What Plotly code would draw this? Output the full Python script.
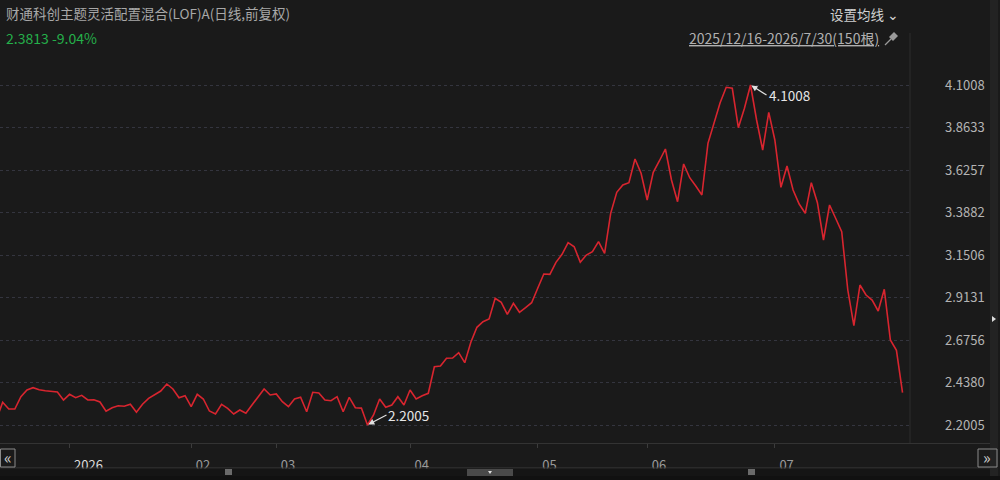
import pandas as pd
import plotly.graph_objects as go

# trading calendar 2025/12/16 - 2026/7/30 (150 bars)
start_date = '2025-12-16'
end_date = '2026-07-30'
holidays = ['2026-01-01', '2026-01-02',
            '2026-02-16', '2026-02-17', '2026-02-18', '2026-02-19', '2026-02-20', '2026-02-23',
            '2026-04-06', '2026-05-01', '2026-05-04', '2026-05-05', '2026-06-19']

# daily close (前复权)
closes = [
    2.2340, 2.3274, 2.2899, 2.2899, 2.3587, 2.3961, 2.4090, 2.3978, 2.3922, 2.3866,
    2.3849, 2.3402, 2.3721, 2.3531, 2.3665, 2.3402, 2.3419, 2.3290, 2.2771, 2.2972,
    2.3084, 2.3050, 2.3162, 2.2715, 2.3162, 2.3497, 2.3698, 2.3905, 2.4297, 2.4017,
    2.3531, 2.3643, 2.3028, 2.3721, 2.3458, 2.2787, 2.2620, 2.3162, 2.2938, 2.2620,
    2.2843, 2.2659, 2.3123, 2.3553, 2.4017, 2.3682, 2.3738, 2.3307, 2.3028, 2.3458,
    2.3553, 2.2748, 2.3833, 2.3794, 2.3402, 2.3363, 2.3587, 2.2748, 2.3553, 2.2972,
    2.2950, 2.2005, 2.2564, 2.3458, 2.2994, 2.3123, 2.3587, 2.3123, 2.3961, 2.3458,
    2.3643, 2.3777, 2.5263, 2.5303, 2.5733, 2.5750, 2.6046, 2.5487, 2.6627, 2.7466,
    2.7779, 2.7929, 2.9086, 2.8863, 2.8192, 2.8807, 2.8304, 2.8561, 2.8840, 2.9645,
    3.0445, 3.0428, 3.1098, 3.1546, 3.2194, 3.1970, 3.1098, 3.1506, 3.1691, 3.2250,
    3.1602, 3.3837, 3.5011, 3.5419, 3.5547, 3.6872, 3.6073, 3.4580, 3.6129, 3.6760,
    3.7431, 3.5698, 3.4485, 3.6593, 3.5827, 3.5363, 3.4860, 3.7750, 3.8867, 4.0019,
    4.0879, 4.0823, 3.8621, 3.9706, 4.1008, 3.9052, 3.7375, 3.9482, 3.7934, 3.5290,
    3.6481, 3.5139, 3.4357, 3.3837, 3.5547, 3.4430, 3.2345, 3.4301, 3.3558, 3.2809,
    2.9550, 2.7555, 2.9830, 2.9271, 2.8991, 2.8377, 2.9589, 2.6756, 2.6179, 2.3813,
]

fund_name = '财通科创主题灵活配置混合(LOF)A(日线,前复权)'

days = pd.bdate_range(start_date, end_date)
days = days[~days.isin(pd.to_datetime(holidays))]
dates = [d.strftime('%Y-%m-%d') for d in days]
n = len(dates)

# month ticks on the first trading day of each month
# (short labels padded with invisible digits so every label starts just right of its tick)
pad = '<span style="color:rgba(0,0,0,0)">00</span>'
tick_vals, tick_text = [], []
seen = set()
for d in days:
    key = (d.year, d.month)
    if key in seen:
        continue
    seen.add(key)
    if d == days[0]:
        continue
    tick_vals.append(d.strftime('%Y-%m-%d'))
    if d.month == 1:
        tick_text.append('<span style="color:#dcdcdc">%d</span>' % d.year)
    else:
        tick_text.append('%02d' % d.month + pad)

hi, lo = max(closes), min(closes)
i_hi, i_lo = closes.index(hi), closes.index(lo)
step = (hi - lo) / 8
y_ticks = [lo + step * k for k in range(9)]
per_px = (hi - lo) / 340
last, prev = closes[-1], closes[-2]
pct = (last / prev - 1) * 100

BG = '#1a1a1a'
CJK = 'Noto Sans CJK SC, Noto Sans, sans-serif'


def px(x):
    return x / 910


def py(y):
    return (443 - y) / 388


fig = go.Figure()
fig.add_trace(go.Scatter(
    x=dates, y=closes, mode='lines',
    line=dict(color='#d8252f', width=1.6),
    hoverinfo='x+y', showlegend=False))

shapes = [
    # separator between plot and price scale
    dict(type='line', xref='paper', yref='paper', x0=px(910), x1=px(910), y0=py(33), y1=py(443),
         line=dict(color='#2c2c2c', width=1)),
    dict(type='line', xref='paper', yref='paper', x0=px(0), x1=px(990), y0=py(443.5), y1=py(443.5),
         line=dict(color='#333333', width=1)),
    # bottom navigator
    dict(type='line', xref='paper', yref='paper', x0=px(0), x1=px(990), y0=py(468), y1=py(468),
         line=dict(color='#3a3a3a', width=1)),
    dict(type='rect', xref='paper', yref='paper', x0=px(0), x1=px(990), y0=py(476), y1=py(468.5),
         fillcolor='#151515', line=dict(width=0)),
    dict(type='rect', xref='paper', yref='paper', x0=px(0), x1=px(1000), y0=py(481), y1=py(476),
         fillcolor='#111111', line=dict(width=0)),
    dict(type='rect', xref='paper', yref='paper', x0=px(467), x1=px(513), y0=py(476), y1=py(469),
         fillcolor='#4a4a4a', line=dict(width=0)),
    dict(type='path', xref='paper', yref='paper',
         path='M %f %f L %f %f L %f %f Z' % (px(488), py(471), px(492), py(471), px(490), py(474)),
         fillcolor='#dddddd', line=dict(width=0)),
    dict(type='rect', xref='paper', yref='paper', x0=px(225), x1=px(232), y0=py(475), y1=py(469),
         fillcolor='#6a6a6a', line=dict(width=0)),
    dict(type='rect', xref='paper', yref='paper', x0=px(748), x1=px(755), y0=py(475), y1=py(469),
         fillcolor='#6a6a6a', line=dict(width=0)),
    # right scroll strip
    dict(type='rect', xref='paper', yref='paper', x0=px(990), x1=px(998), y0=py(476), y1=py(0),
         fillcolor='#232323', line=dict(width=0)),
    dict(type='path', xref='paper', yref='paper',
         path='M %f %f L %f %f L %f %f Z' % (px(992), py(316), px(996), py(319), px(992), py(322)),
         fillcolor='#dddddd', line=dict(width=0)),
    # pin icon
    dict(type='path', xref='paper', yref='paper',
         path='M %f %f L %f %f L %f %f L %f %f Z' % (px(889), py(37), px(894), py(32), px(898), py(36),
                                                     px(893), py(41)),
         fillcolor='#9a9a9a', line=dict(width=0)),
    dict(type='line', xref='paper', yref='paper', x0=px(891), x1=px(885), y0=py(39), y1=py(45),
         line=dict(color='#9a9a9a', width=1.2)),
    # page-turn buttons
    dict(type='rect', xref='paper', yref='paper', x0=px(0.5), x1=px(15), y0=py(467), y1=py(449),
         line=dict(color='#8a8a8a', width=1)),
    dict(type='rect', xref='paper', yref='paper', x0=px(978), x1=px(997), y0=py(467), y1=py(449),
         line=dict(color='#8a8a8a', width=1)),
]

annotations = [
    dict(text=fund_name, x=px(4), y=py(13), xanchor='left', yanchor='middle',
         font=dict(family=CJK, size=13.5, color='#a8a8a8')),
    dict(text='%.4f %+.2f%%' % (last, pct), x=px(4), y=py(38), xanchor='left', yanchor='middle',
         font=dict(family=CJK, size=14, color='#25b04a')),
    dict(text='设置均线 ⌄', x=px(901), y=py(14), xanchor='right', yanchor='middle',
         font=dict(family=CJK, size=13.5, color='#d0d0d0')),
    dict(text='<span style="text-decoration:underline">%s-%s(%d根)</span>' % (
        days[0].strftime('%Y/%m/%d').replace('/0', '/'), days[-1].strftime('%Y/%m/%d').replace('/0', '/'), n),
         x=px(881), y=py(38), xanchor='right', yanchor='middle',
         font=dict(family=CJK, size=14, color='#b0b0b0')),
    dict(text='«', x=px(7.5), y=py(457), xanchor='center', yanchor='middle',
         font=dict(family=CJK, size=16, color='#cccccc')),
    dict(text='»', x=px(987.5), y=py(457), xanchor='center', yanchor='middle',
         font=dict(family=CJK, size=16, color='#cccccc')),
    # high / low markers
    dict(x=dates[i_hi], y=hi, xref='x', yref='y', text='%.4f' % hi, showarrow=True,
         ax=16, ay=10, xanchor='left', yanchor='middle', arrowhead=2, arrowsize=1, arrowwidth=1.2,
         arrowcolor='#e0e0e0', standoff=1, font=dict(family=CJK, size=13.5, color='#e6e6e6')),
    dict(x=dates[i_lo], y=lo, xref='x', yref='y', text='%.4f' % lo, showarrow=True,
         ax=19, ay=-10, xanchor='left', yanchor='middle', arrowhead=2, arrowsize=1, arrowwidth=1.2,
         arrowcolor='#e0e0e0', standoff=1, font=dict(family=CJK, size=13.5, color='#e6e6e6')),
]
for a in annotations:
    a.setdefault('xref', 'paper')
    a.setdefault('yref', 'paper')
    a.setdefault('showarrow', False)

fig.update_layout(
    width=1000, height=480,
    margin=dict(l=0, r=90, t=55, b=37),
    paper_bgcolor=BG, plot_bgcolor=BG,
    shapes=shapes, annotations=annotations,
    xaxis=dict(
        type='category', range=[0.56, 150.23],
        tickvals=tick_vals, ticktext=tick_text,
        ticks='outside', ticklen=4, tickcolor='#3c3c3c',
        showgrid=False, zeroline=False, showline=False,
        ticklabelshift=19, ticklabelstandoff=6,
        tickfont=dict(family=CJK, size=13, color='#9a9a9a'),
    ),
    yaxis=dict(
        side='right', range=[lo - 18 * per_px, hi + 30 * per_px],
        tickvals=y_ticks, ticktext=['%.4f' % v for v in y_ticks],
        showgrid=True, gridcolor='#34353f', griddash='dot', gridwidth=1,
        zeroline=False, showline=False, ticks='',
        ticklabelstandoff=34,
        tickfont=dict(family=CJK, size=13, color='#b4b4b4'),
    ),
)

# drop the browser's default 8px body margin so the chart fills the window
fig.write_html("out.html", config={'displayModeBar': False},
               post_script="document.body.style.margin='0';"
                           "document.body.style.background='#1a1a1a';"
                           "document.body.style.overflow='hidden';")
